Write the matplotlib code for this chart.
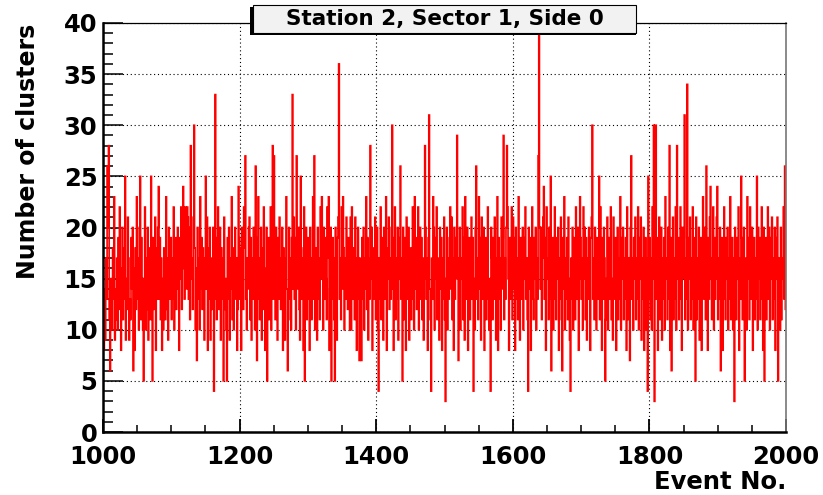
import numpy as np
import matplotlib.pyplot as plt
from matplotlib.patches import Rectangle
from matplotlib.ticker import MultipleLocator

# number of clusters per event, events 1000..1999 (20 events per row)
clusters = [
    12, 8, 14, 9, 17, 13, 26, 20, 28, 11, 6, 15, 12, 10, 18, 13, 23, 9, 14, 11,
    17, 10, 19, 12, 22, 14, 8, 16, 20, 11, 18, 13, 25, 9, 15, 12, 21, 17, 9, 13,
    11, 19, 14, 20, 6, 16, 8, 18, 12, 23, 13, 17, 10, 20, 25, 11, 19, 15, 10, 5,
    15, 22, 10, 17, 12, 20, 9, 18, 14, 11, 25, 16, 5, 19, 12, 14, 21, 8, 18, 13,
    20, 24, 13, 19, 11, 17, 8, 15, 10, 18, 14, 11, 23, 12, 17, 9, 20, 13, 16, 19,
    11, 17, 13, 22, 10, 16, 19, 12, 18, 20, 14, 8, 19, 15, 22, 12, 19, 24, 16, 13,
    22, 18, 14, 22, 21, 13, 20, 11, 28, 17, 15, 12, 21, 30, 18, 10, 16, 7, 20, 13,
    17, 10, 23, 14, 19, 12, 18, 13, 9, 17, 25, 14, 21, 8, 18, 13, 20, 9, 17, 12,
    15, 20, 4, 13, 33, 19, 11, 17, 22, 12, 16, 20, 9, 18, 13, 17, 5, 21, 12, 15,
    10, 5, 19, 13, 20, 9, 17, 14, 23, 11, 18, 10, 15, 20, 13, 17, 8, 12, 24, 19,
    13, 18, 8, 20, 14, 12, 22, 18, 27, 13, 10, 17, 14, 20, 21, 11, 19, 9, 17, 13,
    20, 14, 10, 26, 19, 7, 13, 23, 17, 11, 15, 20, 9, 18, 12, 22, 16, 8, 14, 20,
    5, 13, 19, 11, 17, 22, 10, 15, 28, 13, 27, 17, 11, 20, 14, 9, 19, 13, 21, 17,
    12, 15, 20, 8, 18, 13, 9, 17, 23, 14, 6, 11, 20, 13, 17, 10, 19, 33, 14, 21,
    13, 19, 10, 27, 17, 14, 20, 12, 9, 25, 18, 13, 17, 8, 22, 5, 15, 20, 11, 17,
    19, 13, 8, 20, 14, 11, 17, 23, 13, 27, 10, 18, 15, 9, 20, 17, 13, 11, 22, 15,
    23, 17, 10, 20, 13, 19, 15, 11, 22, 17, 23, 8, 14, 20, 5, 13, 19, 17, 11, 5,
    20, 14, 9, 19, 21, 36, 13, 17, 11, 22, 14, 23, 18, 10, 17, 13, 21, 15, 12, 19,
    17, 10, 21, 10, 22, 14, 13, 18, 11, 21, 17, 8, 15, 20, 13, 7, 17, 11, 7, 19,
    13, 20, 10, 17, 14, 23, 12, 19, 9, 17, 13, 28, 15, 20, 8, 18, 13, 17, 21, 11,
    15, 20, 10, 4, 17, 13, 22, 11, 19, 14, 9, 20, 17, 13, 23, 8, 18, 15, 21, 12,
    17, 13, 20, 30, 14, 8, 19, 22, 11, 17, 13, 20, 9, 15, 19, 26, 13, 17, 5, 20,
    11, 19, 14, 8, 21, 17, 13, 20, 9, 15, 18, 11, 17, 22, 13, 10, 23, 14, 19, 12,
    17, 22, 10, 15, 20, 13, 19, 11, 17, 9, 15, 28, 20, 13, 17, 8, 19, 31, 14, 11,
    4, 17, 13, 23, 20, 10, 19, 15, 22, 11, 17, 13, 9, 20, 14, 19, 8, 17, 13, 21,
    11, 3, 15, 20, 10, 17, 13, 19, 22, 14, 21, 11, 17, 8, 20, 13, 19, 15, 29, 17,
    7, 13, 20, 10, 17, 15, 22, 11, 19, 9, 23, 17, 13, 20, 8, 15, 19, 11, 17, 21,
    13, 19, 4, 15, 10, 20, 26, 13, 17, 11, 23, 14, 19, 9, 21, 17, 13, 20, 8, 15,
    19, 11, 17, 22, 13, 10, 15, 4, 20, 17, 11, 19, 13, 21, 15, 9, 17, 23, 8, 19,
    13, 17, 10, 21, 14, 19, 29, 11, 17, 13, 20, 28, 22, 15, 8, 19, 13, 17, 22, 11,
    21, 14, 19, 8, 20, 13, 17, 11, 23, 15, 9, 19, 13, 17, 20, 10, 15, 19, 22, 13,
    17, 11, 4, 20, 14, 19, 8, 17, 22, 13, 11, 19, 15, 20, 10, 17, 13, 27, 39, 20,
    14, 20, 11, 17, 21, 24, 13, 19, 8, 22, 15, 17, 11, 20, 13, 25, 6, 15, 19, 10,
    17, 22, 13, 11, 19, 15, 20, 8, 17, 13, 21, 11, 6, 19, 14, 23, 10, 17, 13, 19,
    11, 21, 15, 9, 4, 17, 13, 20, 10, 19, 15, 11, 22, 17, 13, 20, 8, 15, 23, 19,
    13, 17, 10, 22, 15, 20, 11, 19, 9, 17, 13, 20, 15, 8, 19, 21, 30, 13, 17, 11,
    20, 14, 10, 19, 13, 17, 25, 11, 22, 15, 8, 19, 13, 20, 17, 5, 11, 15, 21, 10,
    19, 13, 17, 22, 11, 15, 9, 21, 17, 13, 19, 8, 15, 20, 11, 17, 13, 23, 10, 19,
    15, 20, 11, 17, 13, 19, 8, 22, 15, 11, 17, 7, 20, 27, 13, 17, 10, 19, 15, 21,
    11, 17, 13, 22, 10, 19, 15, 21, 9, 17, 13, 20, 8, 15, 19, 10, 17, 4, 25, 13,
    19, 11, 17, 10, 22, 15, 30, 3, 30, 30, 13, 19, 8, 17, 21, 11, 15, 20, 9, 17,
    13, 19, 10, 23, 15, 17, 11, 20, 13, 28, 8, 19, 6, 15, 21, 11, 17, 13, 22, 10,
    28, 15, 19, 11, 17, 22, 13, 8, 20, 15, 19, 31, 11, 17, 13, 34, 10, 19, 15, 21,
    11, 17, 13, 22, 10, 19, 15, 5, 21, 11, 17, 13, 20, 9, 15, 19, 8, 17, 23, 13,
    15, 20, 11, 26, 17, 8, 19, 13, 21, 24, 15, 11, 17, 22, 10, 19, 13, 15, 21, 24,
    11, 17, 13, 20, 6, 15, 19, 8, 17, 22, 13, 11, 19, 15, 20, 10, 17, 13, 23, 11,
    15, 19, 10, 17, 3, 20, 13, 11, 19, 15, 22, 8, 17, 13, 25, 19, 11, 15, 20, 5,
    13, 17, 10, 23, 15, 19, 11, 22, 17, 13, 20, 8, 15, 19, 11, 17, 13, 25, 10, 20,
    15, 19, 11, 17, 22, 13, 8, 20, 5, 15, 19, 11, 17, 22, 13, 20, 10, 15, 19, 21,
    11, 17, 13, 20, 8, 19, 15, 21, 5, 17, 13, 10, 20, 11, 17, 15, 22, 13, 26, 12,
]
first_event = 1000
title = "Station 2, Sector 1, Side 0"
xlabel = "Event No."
ylabel = "Number of clusters"

plt.rcParams['font.family'] = 'DejaVu Sans'
plt.rcParams['font.weight'] = 'bold'

W, H = 823, 495
fig = plt.figure(figsize=(W / 100, H / 100), dpi=100)
ax = fig.add_axes([103 / W, 63 / H, 683 / W, 409 / H])

edges = np.arange(first_event, first_event + len(clusters) + 1)
ax.stairs(clusters, edges, baseline=None, color='red', lw=1.2, zorder=3)
ax.vlines(edges[0], 0, clusters[0], color='red', lw=1.2, zorder=3)

ax.set_xlim(1000, 2000)
ax.set_ylim(0, 40)
ax.xaxis.set_major_locator(MultipleLocator(200))
ax.xaxis.set_minor_locator(MultipleLocator(50))
ax.yaxis.set_major_locator(MultipleLocator(5))
ax.yaxis.set_minor_locator(MultipleLocator(1))

ax.tick_params(axis='x', which='major', direction='in', length=9.5, width=1.3,
               labelsize=17.5, pad=9)
ax.tick_params(axis='x', which='minor', direction='in', length=5, width=1.1)
ax.tick_params(axis='y', which='major', direction='in', length=14.5, width=1.1,
               labelsize=17.5, pad=4)
ax.tick_params(axis='y', which='minor', direction='in', length=7.3, width=1.1)

ax.grid(which='major', color='black', linestyle=(0, (1, 2.5)), linewidth=0.8)
ax.set_axisbelow(False)

ax.spines['left'].set_linewidth(1.8)
ax.spines['bottom'].set_linewidth(1.8)
ax.spines['top'].set_linewidth(0.9)
ax.spines['right'].set_linewidth(1.2)
ax.spines['right'].set_color('#777777')
for s in ax.spines.values():
    s.set_zorder(5)

fig.text(28 / W, 1 - 151 / H, ylabel, rotation=90, ha='center', va='center',
         fontsize=17, fontweight='bold')
fig.text(786 / W, 1 - 482 / H, xlabel, ha='right', va='center',
         fontsize=17.5, fontweight='bold')

# title pave with a dark shadow on the lower left
bx0, by0, bx1, by1 = 250, 5, 636, 33
fig.patches.append(Rectangle((bx0 / W, 1 - (by1 + 2) / H), (bx1 - bx0) / W,
                             (by1 - by0) / H, transform=fig.transFigure,
                             facecolor='black', edgecolor='none', zorder=10))
fig.patches.append(Rectangle(((bx0 + 3) / W, 1 - by1 / H), (bx1 - bx0 - 3) / W,
                             (by1 - by0) / H, transform=fig.transFigure,
                             facecolor='#f2f2f2', edgecolor='black', lw=0.8,
                             zorder=11))
fig.text((bx0 + bx1 + 3) / 2 / W, 1 - (by0 + by1) / 2 / H, title, ha='center',
         va='center', fontsize=15.5, fontweight='bold', zorder=12)

fig.savefig('out.png', dpi=100)
